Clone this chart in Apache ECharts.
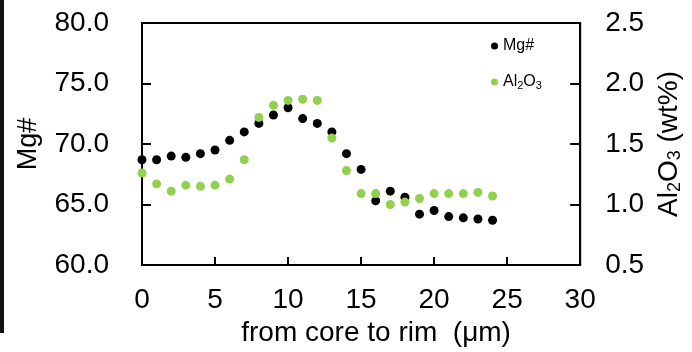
<!DOCTYPE html>
<html>
<head>
<meta charset="utf-8">
<script src="https://cdn.jsdelivr.net/npm/echarts@6/dist/echarts.min.js"></script>
<style>html,body{margin:0;padding:0;background:#fff}#c{width:692px;height:352px}</style>
</head>
<body>
<div id="c"></div>
<script>
var distance = [0,1,2,3,4,5,6,7,8,9,10,11,12,13,14,15,16,17,18,19,20,21,22,23,24];
var mgNumber = [68.7,68.7,69.0,68.9,69.2,69.5,70.3,71.0,71.7,72.4,73.0,72.1,71.7,71.0,69.2,67.9,65.3,66.1,65.6,64.2,64.5,64.0,63.9,63.8,63.7];
var al2o3 = [1.26,1.17,1.11,1.16,1.15,1.16,1.21,1.37,1.72,1.82,1.86,1.87,1.86,1.55,1.28,1.09,1.09,1.00,1.02,1.05,1.09,1.09,1.09,1.10,1.07];
var xTicks = [0,5,10,15,20,25,30];
var mgTicks = [60,65,70,75,80];
var alTicks = [0.5,1.0,1.5,2.0,2.5];

var FONT = '"Liberation Sans", Arial, sans-serif';
var chart = echarts.init(document.getElementById('c'), null, {renderer:'canvas'});
function pairs(xs, ys){ return xs.map(function(x,i){ return [x, ys[i]]; }); }

var legText = {fontFamily:FONT, fontSize:16, color:'#000',
  rich:{a:{fontSize:16, color:'#000', fontFamily:FONT}, s:{fontSize:11, color:'#000', fontFamily:FONT, verticalAlign:'bottom', padding:[8,0,0,0]}}};

chart.setOption({
  animation: false,
  textStyle: {fontFamily: FONT},
  graphic: [{type:'rect', left:0, top:0, shape:{width:4, height:333}, style:{fill:'#111'}}],
  grid: {left:142, top:23, right:104, bottom:87, show:true, borderColor:'#000', borderWidth:2, backgroundColor:'transparent'},
  legend: {
    orient:'vertical', left:486, top:33, itemGap:20,
    itemWidth:7, itemHeight:7, icon:'circle',
    textStyle:legText,
    formatter:function(n){ return n==='Mg#' ? '{a|Mg#}' : '{a|Al}{s|2}{a|O}{s|3}'; },
    data:[{name:'Mg#', textStyle:legText}, {name:'Al2O3', textStyle:legText}]
  },
  xAxis: {
    type:'value', min:xTicks[0], max:xTicks[xTicks.length-1], interval:5,
    name:'from core to rim  (\u03bcm)', nameLocation:'middle', nameGap:54,
    nameTextStyle:{fontSize:28, color:'#000', fontFamily:FONT, padding:[0,0,0,30]},
    axisLine:{show:true, lineStyle:{color:'#000', width:2}},
    axisTick:{show:true, inside:true, length:8, lineStyle:{color:'#000', width:2}},
    axisLabel:{fontSize:28, color:'#000', margin:21, fontFamily:FONT},
    splitLine:{show:false}
  },
  yAxis: [{
    type:'value', min:mgTicks[0], max:mgTicks[mgTicks.length-1], interval:5,
    name:'Mg#', nameLocation:'middle', nameGap:100, nameRotate:90,
    nameTextStyle:{fontSize:27, color:'#000', fontFamily:FONT},
    axisLine:{show:true, lineStyle:{color:'#000', width:2}},
    axisTick:{show:true, inside:true, length:9, lineStyle:{color:'#000', width:2}},
    axisLabel:{fontSize:28, color:'#000', margin:33, fontFamily:FONT, formatter:function(v){return v.toFixed(1);}},
    splitLine:{show:false}
  },{
    type:'value', position:'right', min:alTicks[0], max:alTicks[alTicks.length-1], interval:0.5,
    name:'{a|Al}{s|2}{a|O}{s|3}{a| (wt%)}', nameLocation:'middle', nameGap:68, nameRotate:90,
    nameTextStyle:{fontSize:28, color:'#000', fontFamily:FONT,
      rich:{a:{fontSize:28, color:'#000', fontFamily:FONT}, s:{fontSize:18, color:'#000', fontFamily:FONT, verticalAlign:'bottom', padding:[12,0,0,0]}}},
    axisLine:{show:true, lineStyle:{color:'#000', width:2}},
    axisTick:{show:true, inside:true, length:10, lineStyle:{color:'#000', width:2}},
    axisLabel:{fontSize:28, color:'#000', margin:25, fontFamily:FONT, formatter:function(v){return v.toFixed(1);}},
    splitLine:{show:false}
  }],
  series: [
    {name:'Mg#', type:'scatter', yAxisIndex:0, symbolSize:9, itemStyle:{color:'#000', opacity:1}, data:pairs(distance, mgNumber), z:2},
    {name:'Al2O3', type:'scatter', yAxisIndex:1, symbolSize:9, itemStyle:{color:'#92D050', opacity:1}, data:pairs(distance, al2o3), z:3}
  ]
});
</script>
</body>
</html>
